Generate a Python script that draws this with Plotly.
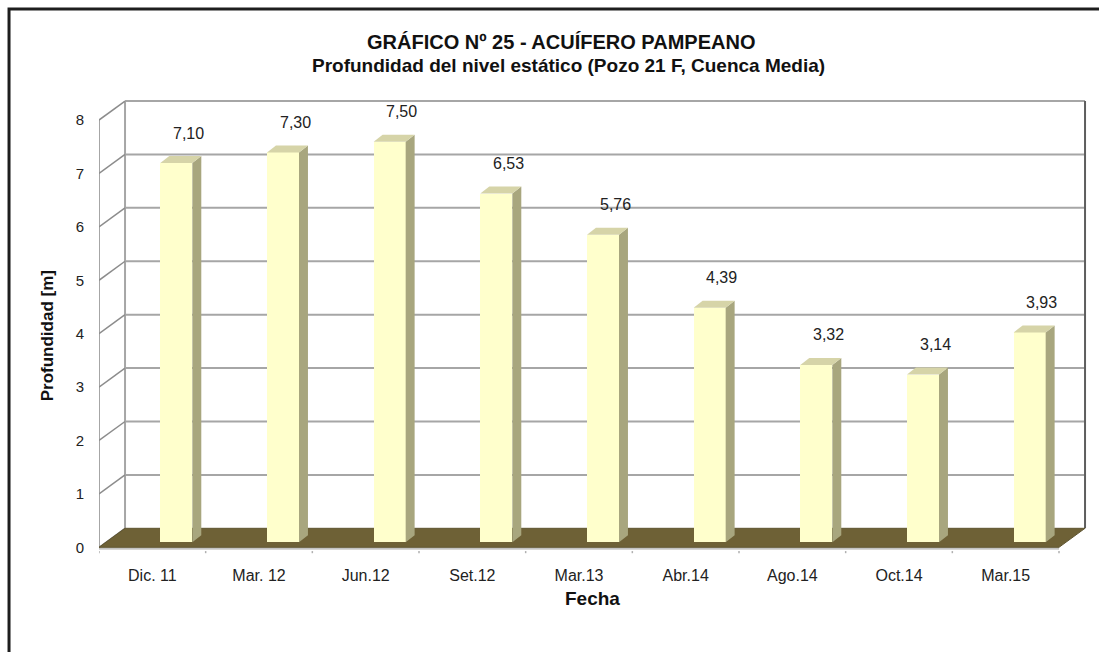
import plotly.graph_objects as go

# ---- data ----
categories = ["Dic. 11", "Mar. 12", "Jun.12", "Set.12", "Mar.13", "Abr.14", "Ago.14", "Oct.14", "Mar.15"]
depth_m = [7.10, 7.30, 7.50, 6.53, 5.76, 4.39, 3.32, 3.14, 3.93]
value_labels = ["7,10", "7,30", "7,50", "6,53", "5,76", "4,39", "3,32", "3,14", "3,93"]
y_ticks = [0, 1, 2, 3, 4, 5, 6, 7, 8]

title_1 = "GRÁFICO Nº 25 - ACUÍFERO PAMPEANO"
title_2 = "Profundidad del nivel estático (Pozo 21 F, Cuenca Media)"
x_title = "Fecha"
y_title = "Profundidad [m]"

# ---- styling / pseudo-3D geometry (in axis units) ----
FONT = "Arial, Liberation Sans, sans-serif"
DX, DY = 0.244, 0.356          # depth of the floor / walls
BAR_BASE = 0.094               # bars stand a bit behind the front edge
BAR_OFF, BAR_W = 0.075, 0.30
SIDE_DX, SIDE_DY = 0.084, 0.131
FRONT_C = "#FFFFCC"
SIDE_C = "#A8A67E"
TOP_C = "#D6D4A8"
FLOOR_C = "#6E6136"
GRID_C = "#A6A6A6"

n = len(categories)
x_lo, x_hi = -0.5, n - 0.5
ymax = max(y_ticks)

fig = go.Figure()
fig.add_trace(go.Bar(
    x=categories, y=depth_m, base=BAR_BASE,
    offset=BAR_OFF, width=BAR_W,
    marker=dict(color=FRONT_C, line=dict(width=0)),
    hoverinfo="skip", showlegend=False,
))

shapes = []
# back wall
shapes.append(dict(type="rect", xref="x", yref="y", layer="below",
                   x0=x_lo + DX, x1=x_hi + DX, y0=DY, y1=ymax + DY,
                   fillcolor="white", line=dict(width=0)))
# back wall grid lines
for k in y_ticks[1:]:
    shapes.append(dict(type="line", xref="x", yref="y", layer="below",
                       x0=x_lo + DX, x1=x_hi + DX, y0=k + DY, y1=k + DY,
                       line=dict(color=GRID_C, width=2)))
# back wall left & right edges
shapes.append(dict(type="line", xref="x", yref="y", layer="below",
                   x0=x_lo + DX, x1=x_lo + DX, y0=DY, y1=ymax + DY,
                   line=dict(color=GRID_C, width=2)))
shapes.append(dict(type="line", xref="x", yref="y", layer="below",
                   x0=x_hi + DX, x1=x_hi + DX, y0=DY, y1=ymax + DY,
                   line=dict(color="#5E5E5E", width=2)))
# left wall: front edge + diagonals
shapes.append(dict(type="line", xref="x", yref="y", layer="below",
                   x0=x_lo, x1=x_lo, y0=0, y1=ymax,
                   line=dict(color=GRID_C, width=2)))
for k in y_ticks:
    shapes.append(dict(type="line", xref="x", yref="y", layer="below",
                       x0=x_lo, x1=x_lo + DX, y0=k, y1=k + DY,
                       line=dict(color="#8C8C8C", width=1.5)))
# floor
shapes.append(dict(type="path", xref="x", yref="y", layer="below",
                   path=f"M {x_lo},0 L {x_hi},0 L {x_hi + DX},{DY} L {x_lo + DX},{DY} Z",
                   fillcolor=FLOOR_C, line=dict(color="#5E5430", width=1)))
# floor front shadow line
shapes.append(dict(type="line", xref="x", yref="y", layer="below",
                   x0=x_lo, x1=x_hi, y0=-0.03, y1=-0.03,
                   line=dict(color="#9A9A9A", width=1)))
# small category tick marks
for i in range(n + 1):
    shapes.append(dict(type="line", xref="x", yref="y", layer="below",
                       x0=i - 0.5, x1=i - 0.5, y0=-0.07, y1=-0.11,
                       line=dict(color="#B0B0B0", width=1.5)))
# bar side & top faces
for i, v in enumerate(depth_m):
    xl = i + BAR_OFF
    xr = xl + BAR_W
    yb = BAR_BASE
    yt = BAR_BASE + v
    shapes.append(dict(type="path", xref="x", yref="y", layer="above",
                       path=f"M {xr},{yb} L {xr + SIDE_DX},{yb + SIDE_DY} L {xr + SIDE_DX},{yt + SIDE_DY} L {xr},{yt} Z",
                       fillcolor=SIDE_C, line=dict(width=0)))
    shapes.append(dict(type="path", xref="x", yref="y", layer="above",
                       path=f"M {xl},{yt} L {xr},{yt} L {xr + SIDE_DX},{yt + SIDE_DY} L {xl + SIDE_DX},{yt + SIDE_DY} Z",
                       fillcolor=TOP_C, line=dict(width=0)))
# outer border of the chart
shapes.append(dict(type="rect", xref="paper", yref="paper",
                   x0=-0.0907, x1=1.03, y0=-0.25, y1=1.168,
                   line=dict(color="#1E1E1E", width=3), fillcolor="rgba(0,0,0,0)"))

annotations = []
for c, v, t in zip(categories, depth_m, value_labels):
    annotations.append(dict(x=c, y=BAR_BASE + v, xref="x", yref="y", text=t,
                            showarrow=False, xshift=36, yshift=30,
                            xanchor="center", yanchor="middle",
                            font=dict(family=FONT, size=16, color="#222222")))
annotations += [
    dict(x=0.466, y=1.098, xref="paper", yref="paper", text=f"<b>{title_1}</b>",
         showarrow=False, xanchor="center", yanchor="middle",
         font=dict(family=FONT, size=20, color="#111111")),
    dict(x=0.473, y=1.047, xref="paper", yref="paper", text=f"<b>{title_2}</b>",
         showarrow=False, xanchor="center", yanchor="middle",
         font=dict(family=FONT, size=19, color="#111111")),
    dict(x=0.497, y=-0.0857, xref="paper", yref="paper", text=f"<b>{x_title}</b>",
         showarrow=False, xanchor="center", yanchor="middle",
         font=dict(family=FONT, size=19, color="#111111")),
    dict(x=-0.0524, y=0.4717, xref="paper", yref="paper", text=f"<b>{y_title}</b>",
         showarrow=False, textangle=-90, xanchor="center", yanchor="middle",
         font=dict(family=FONT, size=17, color="#111111")),
]

fig.update_layout(
    width=1099, height=652, autosize=False,
    margin=dict(l=99, r=8, t=88, b=94),
    paper_bgcolor="white", plot_bgcolor="white",
    shapes=shapes, annotations=annotations,
    bargap=0, showlegend=False,
    xaxis=dict(type="category", range=[-0.5, n - 0.2], showgrid=False, zeroline=False,
               showline=False, ticks="", ticklabelstandoff=6,
               tickfont=dict(family=FONT, size=16, color="#222222")),
    yaxis=dict(range=[-0.2, 8.6], tickvals=y_ticks, showgrid=False, zeroline=False,
               showline=False, ticks="", ticklabelstandoff=14,
               tickfont=dict(family=FONT, size=15, color="#222222")),
)

fig.write_html("out.html", config={"displayModeBar": False},
               post_script="document.body.style.margin='0';")
